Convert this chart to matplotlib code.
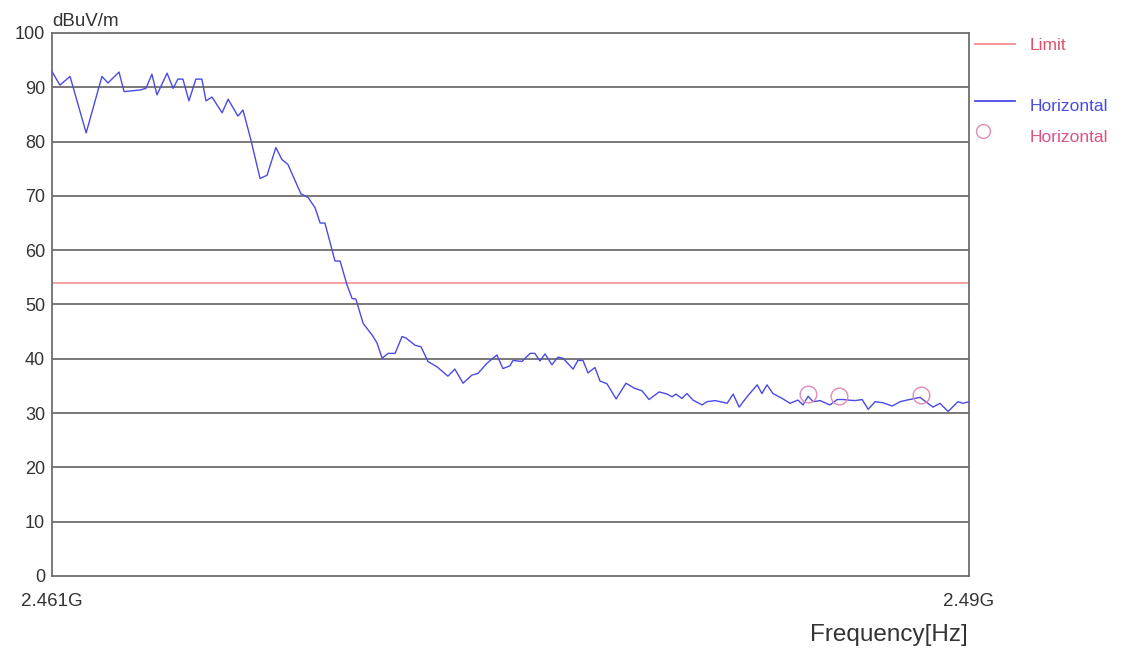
import matplotlib.pyplot as plt
from matplotlib.lines import Line2D

plt.rcParams['font.family'] = ['Liberation Sans', 'DejaVu Sans']

# sweep, frequency in MHz and level in dBuV/m
freq_mhz = [
    2461.00, 2461.25, 2461.57, 2462.08, 2462.58, 2462.77, 2463.12, 2463.28,
    2463.78, 2463.97, 2464.16, 2464.32, 2464.64, 2464.83, 2464.98, 2465.14,
    2465.33, 2465.55, 2465.74, 2465.87, 2466.06, 2466.38, 2466.57, 2466.88,
    2467.04, 2467.29, 2467.58, 2467.80, 2468.08, 2468.27, 2468.46, 2468.87,
    2469.10, 2469.32, 2469.48, 2469.63, 2469.86, 2469.95, 2470.11, 2470.33,
    2470.49, 2470.61, 2470.84, 2471.12, 2471.28, 2471.44, 2471.63, 2471.85,
    2472.07, 2472.20, 2472.48, 2472.67, 2472.89, 2473.18, 2473.52, 2473.74,
    2474.00, 2474.28, 2474.47, 2474.76, 2475.07, 2475.26, 2475.48, 2475.58,
    2475.86, 2476.12, 2476.27, 2476.43, 2476.59, 2476.81, 2477.00, 2477.16,
    2477.48, 2477.63, 2477.79, 2477.95, 2478.17, 2478.33, 2478.55, 2478.84,
    2479.15, 2479.41, 2479.66, 2479.88, 2480.20, 2480.45, 2480.61, 2480.73,
    2480.92, 2481.08, 2481.27, 2481.56, 2481.71, 2481.97, 2482.13, 2482.35,
    2482.54, 2482.73, 2482.98, 2483.30, 2483.45, 2483.61, 2483.80, 2484.09,
    2484.34, 2484.59, 2484.75, 2484.91, 2485.07, 2485.29, 2485.60, 2485.83,
    2486.02, 2486.17, 2486.40, 2486.62, 2486.81, 2487.03, 2487.28, 2487.57,
    2487.82, 2488.04, 2488.29, 2488.45, 2488.70, 2488.86, 2489.08, 2489.34,
    2489.65, 2489.81, 2490.00,
]
level = [
    92.9, 90.4, 92.0, 81.6, 92.0, 90.8, 92.8, 89.2,
    89.5, 89.8, 92.4, 88.6, 92.6, 89.8, 91.5, 91.5,
    87.5, 91.5, 91.5, 87.5, 88.2, 85.3, 87.8, 84.7,
    85.8, 80.3, 73.2, 73.8, 78.9, 76.7, 75.8, 70.4,
    69.7, 67.8, 65.0, 65.0, 60.0, 58.0, 58.0, 53.6,
    51.1, 51.0, 46.5, 44.4, 42.9, 40.1, 41.0, 41.0,
    44.1, 43.8, 42.5, 42.2, 39.5, 38.5, 36.8, 38.1,
    35.5, 37.0, 37.3, 39.2, 40.7, 38.2, 38.7, 39.7,
    39.5, 41.0, 41.0, 39.6, 40.9, 38.9, 40.3, 40.1,
    38.1, 39.7, 39.7, 37.4, 38.4, 35.9, 35.4, 32.6,
    35.5, 34.6, 34.1, 32.5, 33.9, 33.5, 33.0, 33.5,
    32.7, 33.6, 32.4, 31.5, 32.1, 32.3, 32.1, 31.8,
    33.5, 31.1, 33.0, 35.2, 33.6, 35.2, 33.6, 32.7,
    31.8, 32.4, 31.5, 33.1, 32.1, 32.3, 31.5, 32.5,
    32.5, 32.4, 32.3, 32.5, 30.7, 32.1, 31.9, 31.3,
    32.1, 32.4, 32.7, 32.9, 31.8, 31.1, 31.8, 30.3,
    32.1, 31.8, 32.1,
]

# peaks picked for the report
peak_freq = [2484.91, 2485.89, 2488.47]
peak_level = [33.6, 33.2, 33.4]

limit = 54.0

blue = '#4a4ae6'
red = '#f08a8a'
pink = '#e08ab8'

fig = plt.figure(figsize=(11.23, 6.57), dpi=100)
ax = fig.add_axes([0.0463, 0.1233, 0.8166, 0.8265])

ax.set_xlim(2461, 2490)
ax.set_ylim(0, 100)
ax.set_yticks(range(0, 101, 10))
ax.set_xticks([2461, 2490])
ax.set_xticklabels(['2.461G', '2.49G'])
ax.tick_params(axis='y', length=0, labelsize=13, colors='#333333', pad=5)
ax.tick_params(axis='x', length=0, labelsize=13.5, colors='#333333', pad=12)

for v in range(10, 100, 10):
    ax.axhline(v, color='#6e6e6e', lw=1.3, zorder=1)

for side in ['left', 'right', 'top', 'bottom']:
    ax.spines[side].set_color('#6e6e6e')
    ax.spines[side].set_linewidth(1.3)

ax.axhline(limit, color=red, lw=1.1, zorder=2)
ax.plot(freq_mhz, level, color=blue, lw=1.0, zorder=3)
ax.plot(peak_freq, peak_level, 'o', mfc='none', mec=pink, ms=12, mew=1.0, zorder=4)

fig.text(0.0463, 0.955, 'dBuV/m', fontsize=13.5, color='#333333', ha='left', va='bottom')
fig.text(0.862, 0.033, 'Frequency[Hz]', fontsize=17.5, color='#333333', ha='right', va='center')

# legend to the right of the plot
leg_items = [
    (0.931, Line2D([0.868, 0.904], [0.933, 0.933], color=red, lw=1.3), 'Limit', '#e0506a'),
    (0.838, Line2D([0.868, 0.904], [0.846, 0.846], color=blue, lw=1.3), 'Horizontal', '#4a4ae6'),
    (0.790, Line2D([0.875], [0.800], marker='o', mfc='none', mec=pink, ms=10, mew=1.0, ls='none'), 'Horizontal', '#e0508a'),
]
for y, handle, label, col in leg_items:
    handle.set_transform(fig.transFigure)
    fig.add_artist(handle)
    fig.text(0.917, y, label, fontsize=12.5, color=col, ha='left', va='center')

fig.savefig('out.png', dpi=100)
